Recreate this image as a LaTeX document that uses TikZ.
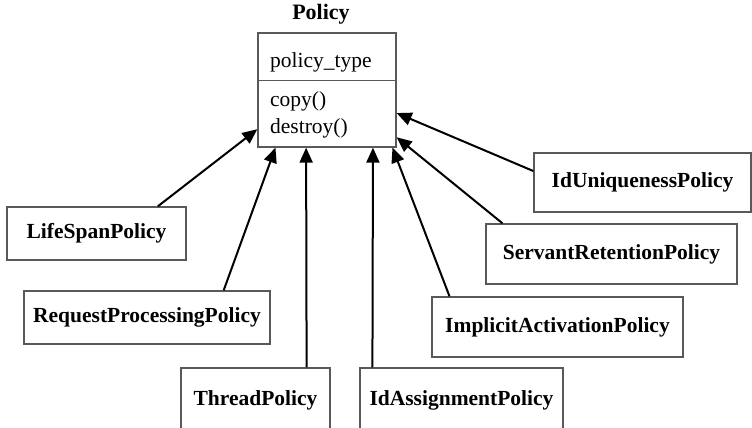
\documentclass[tikz,border=0pt]{standalone}
\usepackage{fontspec}
\setmainfont{Liberation Serif}
\usetikzlibrary{calc,arrows.meta}
\begin{document}
\begin{tikzpicture}[x=1pt,y=-1pt,
  every node/.style={font=\fontsize{21.5}{25}\selectfont, inner sep=0pt},
  policybox/.style={draw=black!65, line width=1.3pt, rectangle, font=\fontsize{21.5}{25}\selectfont\bfseries},
  inherit/.style={line width=2pt, -{Triangle[length=15pt,width=13pt]}}]
\useasboundingbox (0,0) rectangle (752,428);
\clip (0,0) rectangle (752,428);

% base class
\node[draw=black!65, line width=1.3pt, minimum width=138pt, minimum height=114pt] (pol) at (327,90) {};
\node[font=\fontsize{22}{25}\selectfont\bfseries] (title) at (321,14) {Policy};
\draw[black!65, line width=1.3pt] ($(pol.north west)!0.42!(pol.south west)$) coordinate (divl)
  -- ($(pol.north east)!0.42!(pol.south east)$) coordinate (divr);
\node[anchor=base west] (attr) at (270,67) {policy\_type};
\node[anchor=base west] (op1) at (270,106) {copy()};
\node[anchor=base west] (op2) at (270,133) {destroy()};

% derived policies
\node[policybox, minimum width=179pt, minimum height=53pt] (ls) at (96.5,233.5) {LifeSpanPolicy};
\node[policybox, minimum width=246pt, minimum height=53pt] (rpp) at (147,317.5) {RequestProcessingPolicy};
\node[policybox, minimum width=149pt, minimum height=64pt] (thr) at (255.5,400) {ThreadPolicy};
\node[policybox, minimum width=203pt, minimum height=64pt] (ida) at (461.5,400) {IdAssignmentPolicy};
\node[policybox, minimum width=251pt, minimum height=60pt] (ia) at (557.5,327) {ImplicitActivationPolicy};
\node[policybox, minimum width=251pt, minimum height=60pt] (sr) at (611.5,254) {ServantRetentionPolicy};
\node[policybox, minimum width=217pt, minimum height=59pt] (iu) at (642.5,182.5) {IdUniquenessPolicy};

% generalisation arrows
\draw[inherit] ($(ls.north west)!0.84!(ls.north east)$) -- ($(pol.north west)!0.84!(pol.south west)$);
\draw[inherit] ($(rpp.north west)!0.81!(rpp.north east)$) -- ($(pol.south west)!0.13!(pol.south east)$);
\draw[inherit] ($(thr.north west)!0.84!(thr.north east)$) -- ($(pol.south west)!0.35!(pol.south east)$);
\draw[inherit] ($(ida.north west)!0.064!(ida.north east)$) -- ($(pol.south west)!0.83!(pol.south east)$);
\draw[inherit] ($(ia.north west)!0.072!(ia.north east)$) -- ($(pol.south west)!0.97!(pol.south east)$);
\draw[inherit] ($(sr.north west)!0.068!(sr.north east)$) -- ($(pol.north east)!0.91!(pol.south east)$);
\draw[inherit] ($(iu.north west)!0.31!(iu.south west)$) -- ($(pol.north east)!0.70!(pol.south east)$);
\end{tikzpicture}
\end{document}
